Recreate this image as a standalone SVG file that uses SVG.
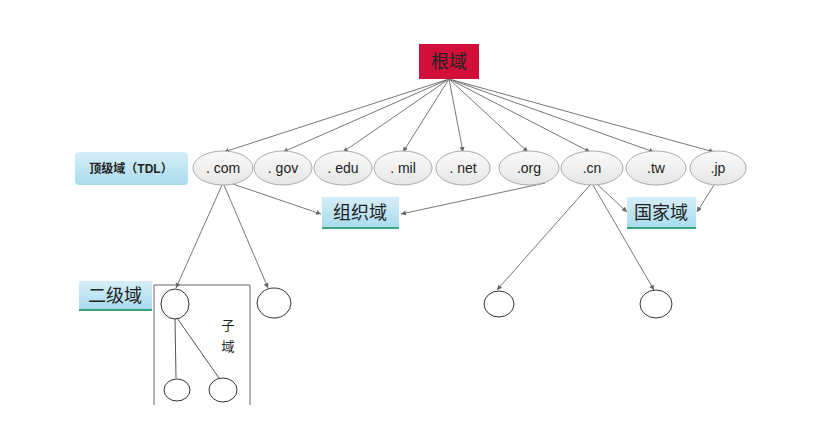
<svg xmlns="http://www.w3.org/2000/svg" width="820" height="438" viewBox="0 0 820 438">
<defs>
<marker id="a" markerWidth="6" markerHeight="6" refX="5" refY="3" orient="auto" markerUnits="userSpaceOnUse"><path d="M0,0.5 L5,3 L0,5.5 z" fill="#666"/></marker>
<linearGradient id="lb" x1="0" y1="0" x2="0" y2="1"><stop offset="0" stop-color="#d6eef8"/><stop offset="1" stop-color="#a9dcef"/></linearGradient>
<linearGradient id="el" x1="0" y1="0" x2="0" y2="1"><stop offset="0" stop-color="#fafafa"/><stop offset="1" stop-color="#e6e6e6"/></linearGradient>
</defs>
<style>
.c{stroke:#777;stroke-width:1;fill:none;marker-end:url(#a)}
.t{stroke:#555;stroke-width:1;fill:none}
.e{fill:url(#el);stroke:#aaa;stroke-width:1}
.o{fill:#fff;stroke:#333;stroke-width:1}
.lbl{fill:url(#lb)}
.ul{stroke:#3aa37a;stroke-width:2}
text{font-family:"Liberation Sans","Noto Sans CJK SC",sans-serif;fill:#222}
.tl{font-size:14px;text-anchor:middle}
.cj{font-size:18px;text-anchor:middle}
</style>
<rect width="820" height="438" fill="#fff"/>
<g id="connectors">
<line class="c" x1="449" y1="79" x2="224" y2="152"/>
<line class="c" x1="449" y1="79" x2="283" y2="152"/>
<line class="c" x1="449" y1="79" x2="343" y2="152"/>
<line class="c" x1="449" y1="79" x2="403" y2="152"/>
<line class="c" x1="449" y1="79" x2="463" y2="152"/>
<line class="c" x1="449" y1="79" x2="528" y2="152"/>
<line class="c" x1="449" y1="79" x2="590" y2="152"/>
<line class="c" x1="449" y1="79" x2="654" y2="152"/>
<line class="c" x1="449" y1="79" x2="714" y2="152"/>
<line class="c" x1="222" y1="185" x2="176" y2="288"/>
<line class="c" x1="224" y1="185" x2="268" y2="288"/>
<line class="c" x1="230" y1="183" x2="321" y2="214"/>
<line class="c" x1="545" y1="183" x2="401" y2="214"/>
<line class="c" x1="590" y1="185" x2="497" y2="290"/>
<line class="c" x1="593" y1="185" x2="654" y2="290"/>
<line class="c" x1="598" y1="185" x2="627" y2="212"/>
<line class="c" x1="714" y1="185" x2="697" y2="212"/>
<line class="t" x1="175" y1="318" x2="176" y2="378"/>
<line class="t" x1="177" y1="318" x2="219" y2="378"/>
</g>
<g id="root"><rect x="419" y="44" width="60" height="35" fill="#d0103a"/><text x="449" y="68" class="cj" font-size="17" style="fill:#222">根域</text></g>
<g id="tdl"><rect x="75" y="152" width="113" height="33" rx="4" class="lbl"/><text x="131" y="173" style="font-size:12px;text-anchor:middle;font-weight:bold">顶级域（TDL）</text></g>
<g id="com"><ellipse cx="223" cy="168" rx="30" ry="17" class="e"/><text x="223" y="173" class="tl">. com</text></g>
<g id="gov"><ellipse cx="283" cy="168" rx="29" ry="17" class="e"/><text x="283" y="173" class="tl">. gov</text></g>
<g id="edu"><ellipse cx="343" cy="168" rx="29" ry="17" class="e"/><text x="343" y="173" class="tl">. edu</text></g>
<g id="mil"><ellipse cx="403" cy="168" rx="29" ry="17" class="e"/><text x="403" y="173" class="tl">. mil</text></g>
<g id="net"><ellipse cx="463" cy="168" rx="27" ry="17" class="e"/><text x="463" y="173" class="tl">. net</text></g>
<g id="org"><ellipse cx="529" cy="168" rx="30" ry="17" class="e"/><text x="529" y="173" class="tl">.org</text></g>
<g id="cn"><ellipse cx="592" cy="168" rx="31" ry="17" class="e"/><text x="592" y="173" class="tl">.cn</text></g>
<g id="tw"><ellipse cx="656" cy="168" rx="30" ry="17" class="e"/><text x="656" y="173" class="tl">.tw</text></g>
<g id="jp"><ellipse cx="718" cy="168" rx="28" ry="17" class="e"/><text x="718" y="173" class="tl">.jp</text></g>
<g id="org-label"><rect x="322" y="197" width="77" height="30" class="lbl"/><line x1="322" y1="228" x2="399" y2="228" class="ul"/><text x="360" y="219" class="cj">组织域</text></g>
<g id="country-label"><rect x="627" y="197" width="69" height="30" class="lbl"/><line x1="627" y1="228" x2="696" y2="228" class="ul"/><text x="661" y="219" class="cj">国家域</text></g>
<g id="sld-label"><rect x="79" y="281" width="73" height="28" class="lbl"/><line x1="79" y1="310" x2="152" y2="310" class="ul"/><text x="115" y="302" class="cj">二级域</text></g>
<g id="subdomain"><path d="M154,405 V285 H250 V405" fill="none" stroke="#666"/><text x="228" y="330" style="font-size:13px;text-anchor:middle">子</text><text x="228" y="351" style="font-size:13px;text-anchor:middle">域</text></g>
<g id="s1"><ellipse cx="175" cy="304" rx="14" ry="15" class="o"/></g>
<g id="s2"><ellipse cx="274" cy="303" rx="17" ry="15" class="o"/></g>
<g id="s3"><ellipse cx="499" cy="304" rx="15" ry="13" class="o"/></g>
<g id="s4"><ellipse cx="656" cy="304" rx="16" ry="14" class="o"/></g>
<g id="s5"><ellipse cx="177" cy="390" rx="13" ry="11" class="o"/></g>
<g id="s6"><ellipse cx="223" cy="390" rx="14" ry="12" class="o"/></g>
</svg>
